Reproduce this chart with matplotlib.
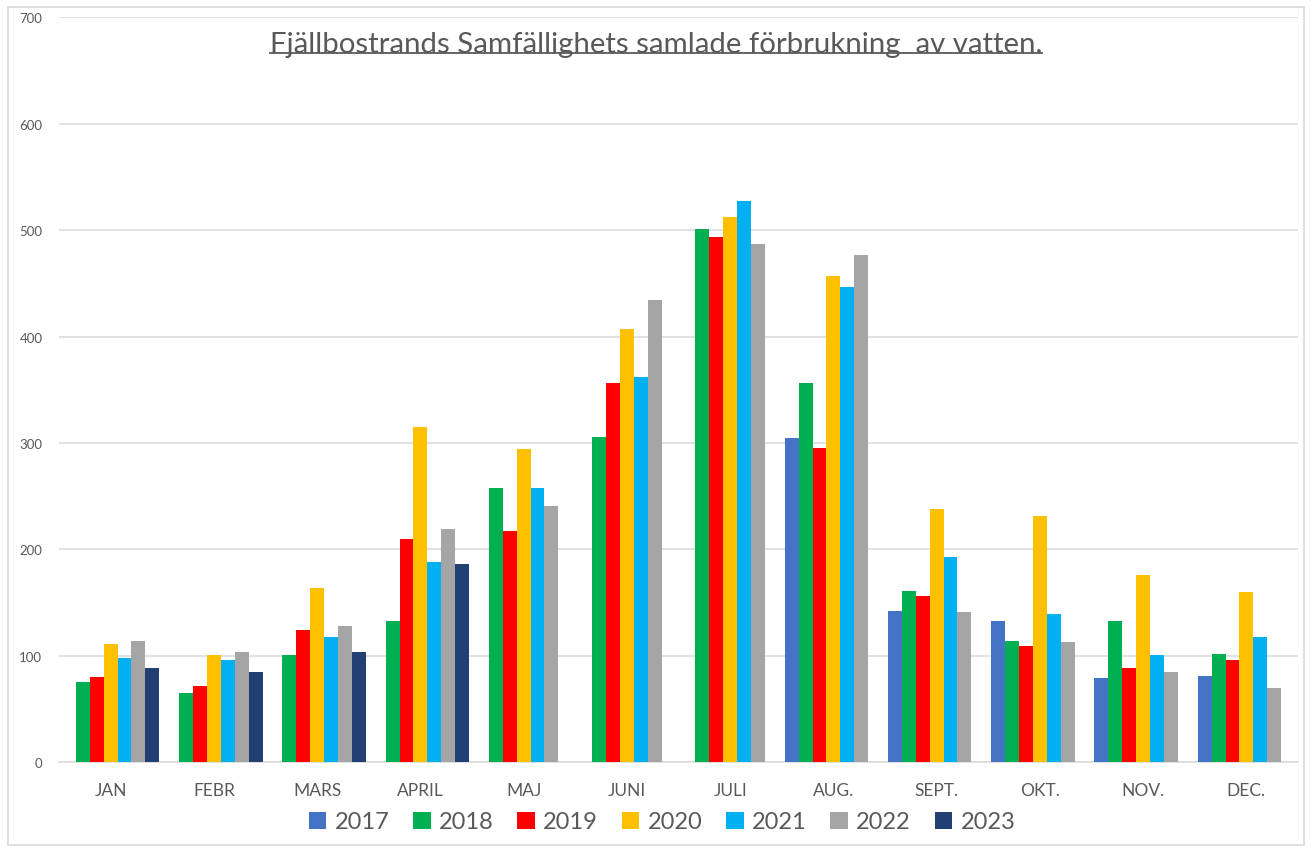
import numpy as np
import matplotlib
matplotlib.use("Agg")
import matplotlib.pyplot as plt
from matplotlib.patches import Rectangle
from matplotlib.lines import Line2D

nan = np.nan
months = ["JAN", "FEBR", "MARS", "APRIL", "MAJ", "JUNI", "JULI", "AUG.", "SEPT.", "OKT.", "NOV.", "DEC."]
years = ["2017", "2018", "2019", "2020", "2021", "2022", "2023"]
v2017 = [nan, nan, nan, nan, nan, nan, nan, 305, 142, 133, 79, 81]
v2018 = [75, 65, 101, 133, 258, 306, 501, 356, 161, 114, 133, 102]
v2019 = [80, 72, 124, 210, 217, 356, 494, 295, 156, 109, 89, 96]
v2020 = [111, 101, 164, 315, 294, 407, 512, 457, 238, 231, 176, 160]
v2021 = [98, 96, 118, 188, 258, 362, 527, 447, 193, 139, 101, 118]
v2022 = [114, 104, 128, 219, 241, 434, 487, 477, 141, 113, 85, 70]
v2023 = [89, 85, 104, 186, nan, nan, nan, nan, nan, nan, nan, nan]
series = [v2017, v2018, v2019, v2020, v2021, v2022, v2023]
colors = ["#4472C4", "#00B050", "#FF0000", "#FFC000", "#00B0F0", "#A5A5A5", "#223F73"]
title = "Fjällbostrands Samfällighets samlade förbrukning  av vatten."

plt.rcParams['font.family'] = ['Lato', 'DejaVu Sans']
txt = "#595959"

fig = plt.figure(figsize=(13.12, 8.53), dpi=100)
W, H = 1312, 853
ax = fig.add_axes([59 / W, 1 - 763.3 / H, (1298 - 59) / W, (763.3 - 18.3) / H])

x = np.arange(len(months))
w = 0.1346
handles = []
for i, (vals, c) in enumerate(zip(series, colors)):
    b = ax.bar(x + (i - 3) * w, vals, width=w, color=c, label=years[i], zorder=3)
    handles.append(b)

ax.set_xlim(-0.5, len(months) - 0.5)
ax.set_ylim(0, 700)
ax.set_yticks(np.arange(0, 701, 100))
ax.set_xticks(x)
ax.set_xticklabels(months)
ax.tick_params(axis='y', length=0, labelsize=9.5, labelcolor=txt, pad=12)
ax.tick_params(axis='x', length=0, labelsize=12.5, labelcolor=txt, pad=14)
ax.grid(axis='y', color="#D9D9D9", linewidth=1.1, zorder=0)
for s in ["top", "right", "left"]:
    ax.spines[s].set_visible(False)
ax.spines["bottom"].set_color("#D9D9D9")
ax.spines["bottom"].set_linewidth(1.1)

leg = fig.legend(handles=handles, labels=years, loc='center', bbox_to_anchor=(662 / W, 1 - 823 / H),
                 ncol=7, frameon=False, fontsize=17, handlelength=0.75, handleheight=0.75,
                 handletextpad=0.35, columnspacing=1.0, labelcolor=txt)

t = fig.text(0.5, 1 - 45 / H, title, ha='center', va='center', fontsize=21.2, color=txt)

# outer border
fig.patches.append(Rectangle((8 / W, 1 - 846 / H), (1304 - 8) / W, (846 - 8) / H,
                             transform=fig.transFigure, fill=False, edgecolor="#D9D9D9", linewidth=1.2))

# underline under title
fig.canvas.draw()
bb = t.get_window_extent(renderer=fig.canvas.get_renderer())
uy = (bb.y0 + 4) / H
fig.lines.append(Line2D([bb.x0 / W, bb.x1 / W], [uy, uy], transform=fig.transFigure,
                        color=txt, linewidth=1.3))

fig.savefig("out.png", dpi=100)
